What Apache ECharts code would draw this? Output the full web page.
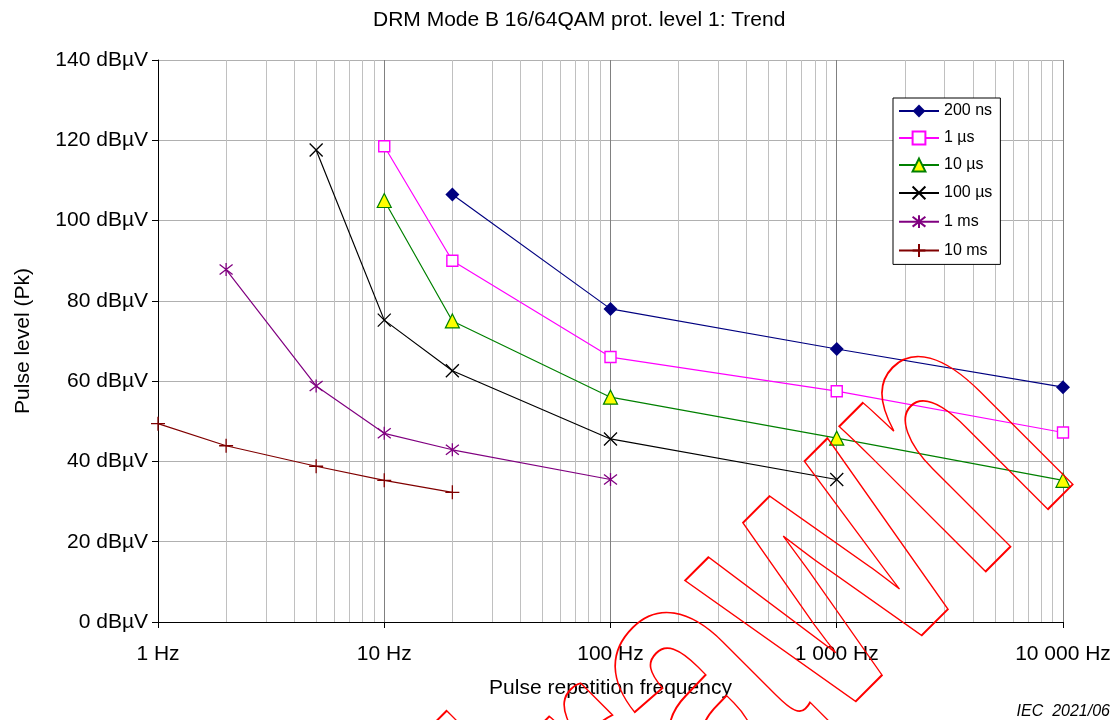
<!DOCTYPE html>
<html>
<head>
<meta charset="utf-8">
<title>DRM Mode B 16/64QAM prot. level 1: Trend</title>
<script src="https://cdn.jsdelivr.net/npm/echarts@6/dist/echarts.min.js"></script>
<style>
  html, body { margin: 0; padding: 0; background: #fff; }
  #chart { width: 1115px; height: 720px; }
</style>
</head>
<body>
<div id="chart"></div>
<script>
// Pulse repetition frequency (Hz) and pulse level (dBµV) per pulse width
const freq200ns = [20, 100, 1000, 10000];
const level200ns = [106.5, 78, 68, 58.5];

const freq1us = [10, 20, 100, 1000, 10000];
const level1us = [118.5, 90, 66, 57.5, 47.2];

const freq10us = [10, 20, 100, 1000, 10000];
const level10us = [105, 75, 56, 45.8, 35.3];

const freq100us = [5, 10, 20, 100, 1000];
const level100us = [117.6, 75.2, 62.6, 45.6, 35.5];

const freq1ms = [2, 5, 10, 20, 100];
const level1ms = [87.8, 58.8, 47, 42.9, 35.5];

const freq10ms = [1, 2, 5, 10, 20];
const level10ms = [49.4, 43.9, 38.8, 35.3, 32.3];

const seriesNames = ['200 ns', '1 µs', '10 µs', '100 µs', '1 ms', '10 ms'];

// Axis ticks
const yTicks = [0, 20, 40, 60, 80, 100, 120, 140];
const minorFreqs = [2, 3, 4, 5, 6, 7, 8, 9,
                    20, 30, 40, 50, 60, 70, 80, 90,
                    200, 300, 400, 500, 600, 700, 800, 900,
                    2000, 3000, 4000, 5000, 6000, 7000, 8000, 9000];

const chartTitle = 'DRM Mode B 16/64QAM prot. level 1: Trend';
const xName = 'Pulse repetition frequency';
const yName = 'Pulse level (Pk)';
const sourceNote = 'IEC  2021/06';
const stampText = 'Withdrawn';

const FONT = '"Liberation Sans", Arial, sans-serif';

function pairs(xs, ys) { return xs.map((x, i) => [x, ys[i]]); }
function groupThousands(v) { return String(v).replace(/\B(?=(\d{3})+(?!\d))/g, ' '); }

const crossPath = 'path://M0,0L10,10M10,0L0,10';
const starPath = 'path://M0,0L10,10M10,0L0,10M5,-1.5L5,11.5';
const plusPath = 'path://M5,0L5,10M0,5L10,5';

function lineSeries(name, data, color, symbol, size, itemStyle) {
  return {
    name: name,
    type: 'line',
    data: data,
    z: 3,
    symbol: symbol,
    symbolSize: size,
    showAllSymbol: true,
    lineStyle: { color: color, width: 1.2 },
    itemStyle: itemStyle,
    emphasis: { disabled: true },
    animation: false
  };
}

const chart = echarts.init(document.getElementById('chart'));

chart.setOption({
  animation: false,
  backgroundColor: '#ffffff',
  textStyle: { fontFamily: FONT },
  title: {
    text: chartTitle,
    left: 373,
    top: 10,
    padding: 0,
    textStyle: { fontFamily: FONT, fontSize: 21, fontWeight: 'normal', color: '#000' }
  },
  grid: { left: 158, right: 52, top: 60, bottom: 98, containLabel: false, outerBoundsMode: 'none' },
  legend: {
    data: seriesNames,
    orient: 'vertical',
    left: 893,
    top: 98,
    padding: [5, 8, 5, 5],
    itemWidth: 40,
    itemHeight: 16,
    itemGap: 11,
    backgroundColor: '#fff',
    borderColor: '#000',
    borderWidth: 1,
    borderRadius: 0,
    textStyle: { fontFamily: FONT, fontSize: 16, color: '#000' }
  },
  xAxis: {
    type: 'log',
    logBase: 10,
    min: 1,
    max: 10000,
    name: xName,
    nameLocation: 'middle',
    nameGap: 56,
    nameTextStyle: { fontFamily: FONT, fontSize: 21, color: '#000' },
    axisLine: { show: true, lineStyle: { color: '#000', width: 1 } },
    axisTick: { show: true, length: 6, lineStyle: { color: '#000' } },
    axisLabel: {
      margin: 22,
      fontFamily: FONT,
      fontSize: 21,
      color: '#000',
      formatter: v => groupThousands(v) + ' Hz'
    },
    splitLine: { show: true, lineStyle: { color: '#808080', width: 1 } }
  },
  yAxis: {
    type: 'value',
    min: yTicks[0],
    max: yTicks[yTicks.length - 1],
    interval: 20,
    name: yName,
    nameLocation: 'middle',
    nameGap: 124,
    nameRotate: 90,
    nameTextStyle: { fontFamily: FONT, fontSize: 21, color: '#000' },
    axisLine: { show: true, lineStyle: { color: '#000', width: 1 } },
    axisTick: { show: true, length: 6, lineStyle: { color: '#000' } },
    axisLabel: {
      margin: 10,
      fontFamily: FONT,
      fontSize: 21,
      color: '#000',
      formatter: v => v + ' dBµV'
    },
    splitLine: { show: true, lineStyle: { color: '#b0b0b0', width: 1 } }
  },
  graphic: [
    {
      type: 'text',
      right: 5,
      top: 704,
      z: 50,
      style: { text: sourceNote, font: 'italic 16px ' + FONT, fill: '#000' }
    },
    {
      type: 'text',
      x: 1008,
      y: 397,
      rotation: Math.PI / 4,
      scaleX: 0.66,
      scaleY: 1,
      z: 100,
      silent: true,
      style: {
        text: stampText,
        font: 'bold 390px ' + FONT,
        align: 'right',
        verticalAlign: 'middle',
        fill: 'none',
        stroke: '#ff0000',
        lineWidth: 2
      }
    }
  ],
  series: [
    {
      // minor log gridlines between decades, kept beneath the data lines
      name: 'minor-grid',
      type: 'line',
      data: [],
      z: 1,
      silent: true,
      markLine: {
        z: 1,
        silent: true,
        symbol: 'none',
        animation: false,
        label: { show: false },
        emphasis: { disabled: true },
        lineStyle: { color: '#c0c0c0', width: 1, type: 'solid' },
        data: minorFreqs.map(f => ({ xAxis: f }))
      }
    },
    lineSeries(seriesNames[0], pairs(freq200ns, level200ns), '#000080', 'diamond', 14,
      { color: '#000080' }),
    lineSeries(seriesNames[1], pairs(freq1us, level1us), '#ff00ff', 'rect', 11,
      { color: '#ffffff', borderColor: '#ff00ff', borderWidth: 1.4 }),
    lineSeries(seriesNames[2], pairs(freq10us, level10us), '#008000', 'triangle', 14,
      { color: '#ffff00', borderColor: '#008000', borderWidth: 1.2 }),
    lineSeries(seriesNames[3], pairs(freq100us, level100us), '#000000', crossPath, 13,
      { color: 'none', borderColor: '#000000', borderWidth: 1.3 }),
    lineSeries(seriesNames[4], pairs(freq1ms, level1ms), '#800080', starPath, 13,
      { color: 'none', borderColor: '#800080', borderWidth: 1.3 }),
    lineSeries(seriesNames[5], pairs(freq10ms, level10ms), '#800000', plusPath, 14,
      { color: 'none', borderColor: '#800000', borderWidth: 1.3 })
  ]
});
</script>
</body>
</html>
